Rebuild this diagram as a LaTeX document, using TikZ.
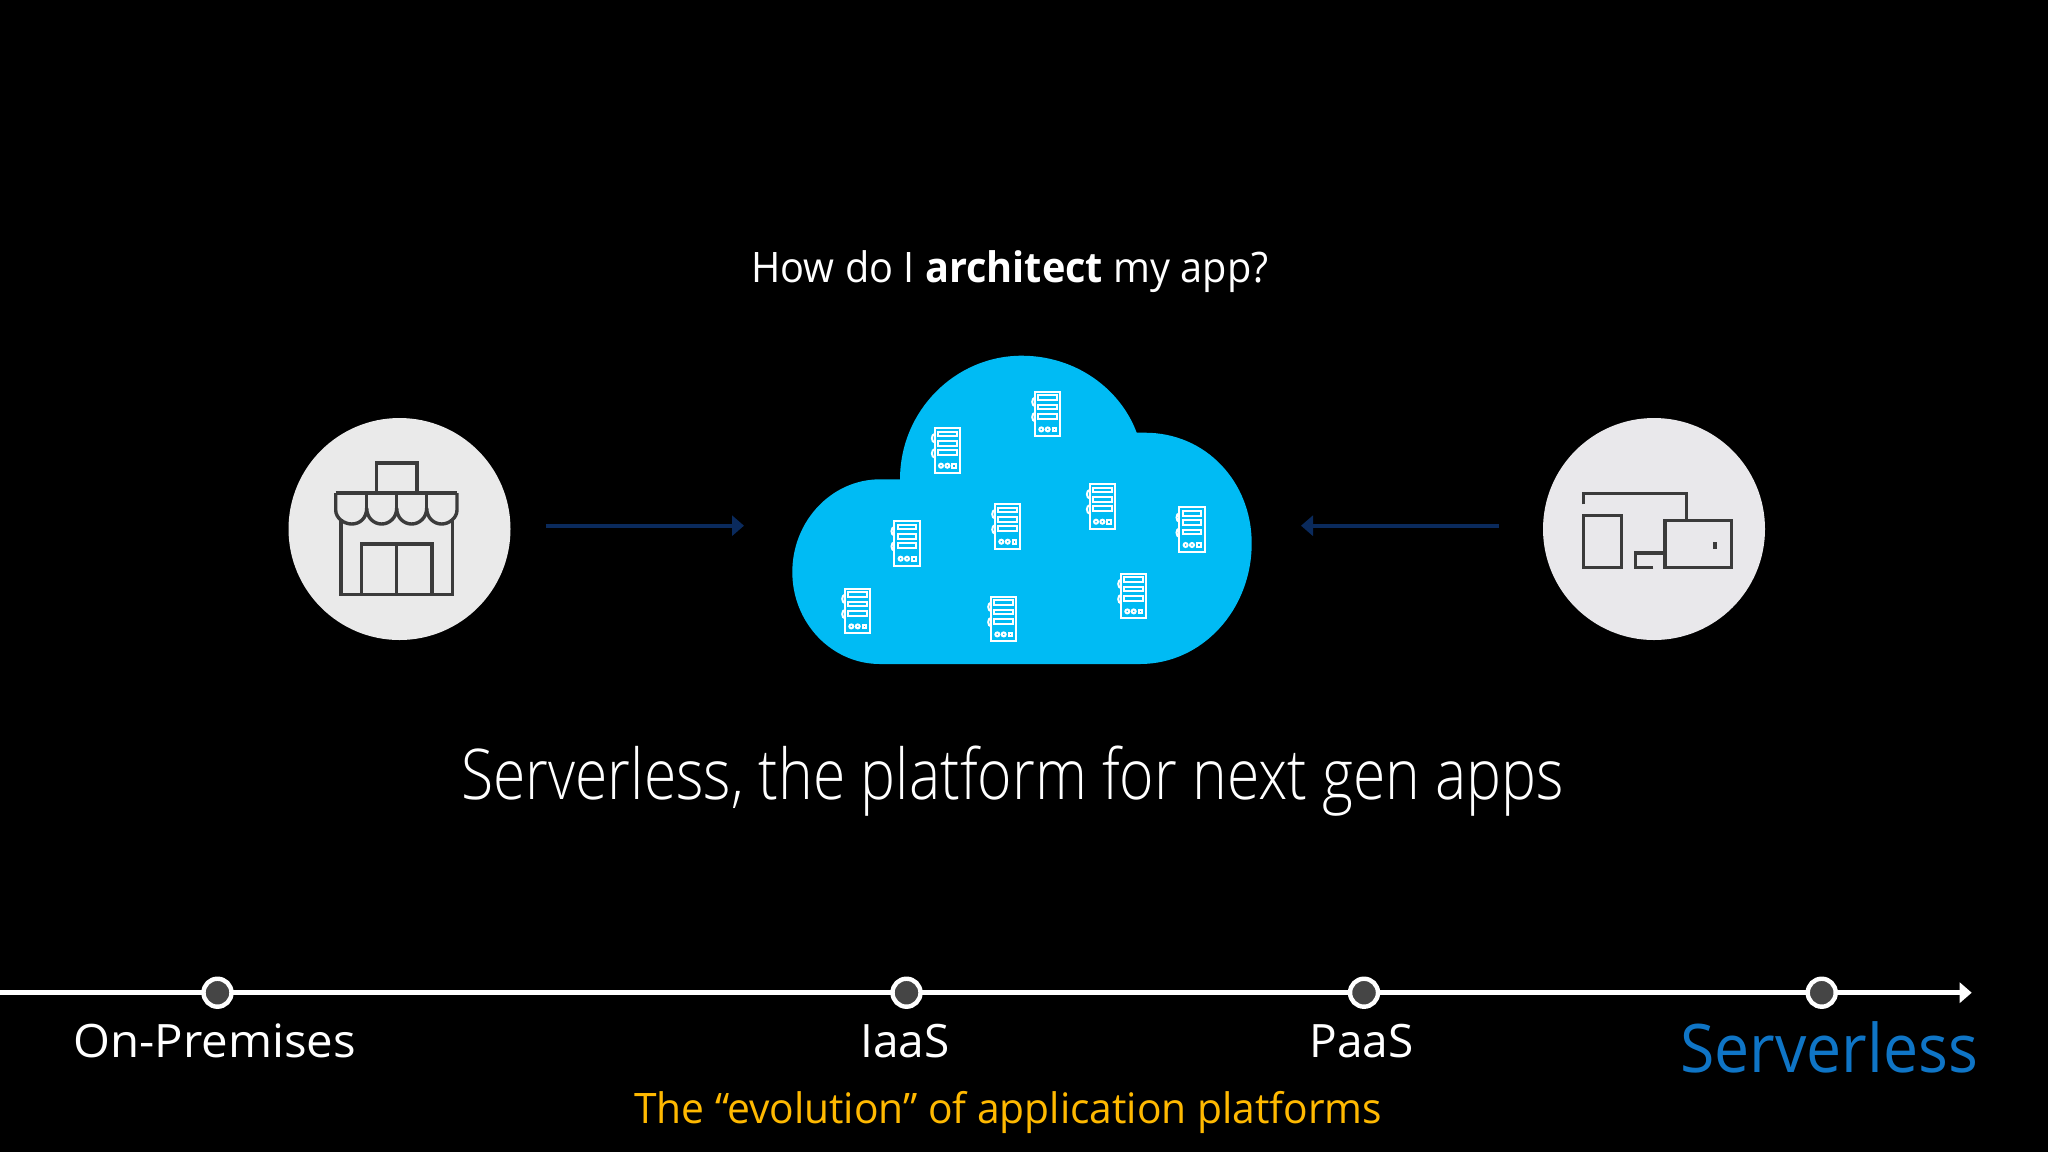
\documentclass[tikz,border=0pt]{standalone}
\usepackage{fontspec}
\usetikzlibrary{arrows.meta}
\setmainfont{Open Sans}
\newfontfamily\lightfont{Open Sans Light}
\definecolor{cloudblue}{HTML}{00BBF4}
\definecolor{iconline}{HTML}{3B3B3B}
\definecolor{discfill}{HTML}{EAEAEA}
\definecolor{discfillb}{HTML}{E9E8EB}
\definecolor{navyarrow}{HTML}{0A2A5C}
\definecolor{dotfill}{HTML}{454545}
\definecolor{servblue}{HTML}{0F75C6}
\definecolor{goldtext}{HTML}{FFB900}
\tikzset{
  disc/.style={circle,draw=none,minimum size=111pt,inner sep=0pt},
  iconstroke/.style={draw=iconline,line width=1.7pt,line join=miter},
  feedarrow/.style={draw=navyarrow,line width=2pt,-{Triangle[length=6pt,width=10pt]}},
  axisline/.style={draw=white,line width=2.3pt,-{Triangle[length=6pt,width=10pt]}},
  stopdot/.style={circle,draw=white,fill=dotfill,line width=2.2pt,minimum size=14pt,inner sep=0pt},
  label/.style={anchor=base west,inner sep=0pt,text=white},
  servstroke/.style={draw=white,line width=1pt},
  pics/server/.style={code={
    \draw[servstroke] (0,0) rectangle (25.3,44.7);
    \draw[servstroke] (3.3,3.7) rectangle (22,8.3);
    \draw[servstroke] (3.3,13) rectangle (22,17.7);
    \draw[servstroke] (3.3,22.3) rectangle (22,27);
    \draw[servstroke] (0,6) arc[start angle=90,end angle=270,x radius=2.8,y radius=-4.2];
    \draw[servstroke] (0,21.2) arc[start angle=90,end angle=270,x radius=2.8,y radius=-4.2];
    \draw[servstroke] (6.3,37.7) circle (2);
    \draw[servstroke] (12.7,37.7) circle (2);
    \draw[servstroke] (17.5,35.9) rectangle (21.3,39.5);
  }}
}
\begin{document}
\begin{tikzpicture}[x=0.5pt,y=-0.5pt]
\useasboundingbox (0,0) rectangle (2048,1152);
\fill[black] (0,0) rectangle (2048,1152);

% question
\node[label,font=\fontsize{21}{25}\selectfont] (question) at (751,282) {\scalebox{.945}[1]{How do I \textbf{architect} my app?}};

% discs
\node[disc,fill=discfill] (store) at (399.5,529) {};
\node[disc,fill=discfillb] (devices) at (1654,529) {};

% store icon
\draw[iconstroke] (376.3,492.7) -- (376.3,463) -- (417,463) -- (417,492.7);
\draw[iconstroke] (335.7,493) -- (457,493);
\draw[iconstroke] (335.7,493) -- (335.7,510)
  .. controls (335.7,518) and (344,524) .. (351.7,524)
  .. controls (360,524) and (366.7,518) .. (366.7,508)
  .. controls (366.7,518) and (374,524) .. (381.7,524)
  .. controls (389,524) and (396.7,518) .. (396.7,508)
  .. controls (396.7,518) and (404,524) .. (411.7,524)
  .. controls (419,524) and (426.7,518) .. (426.7,508)
  .. controls (426.7,518) and (434,524) .. (441.7,524)
  .. controls (449,524) and (457,518) .. (457,510) -- (457,493);
\draw[iconstroke] (366.7,493) -- (366.7,508) (396.7,493) -- (396.7,508) (426.7,493) -- (426.7,508);
\draw[iconstroke] (341,519) -- (341,594.3) -- (452.3,594.3) -- (452.3,519);
\draw[iconstroke] (361.3,594.3) -- (361.3,544) -- (432,544) -- (432,594.3);
\draw[iconstroke] (396.7,544) -- (396.7,594.3);

% devices icon
\draw[iconstroke] (1583.7,504.3) -- (1583.7,493.3) -- (1686.7,493.3) -- (1686.7,520.7);
\draw[iconstroke] (1583.7,515.7) rectangle (1621.7,567.7);
\draw[iconstroke] (1653.3,567.7) -- (1635.3,567.7) -- (1635.3,553) -- (1665,553);
\draw[iconstroke] (1665,520.7) rectangle (1731.7,567.7);
\fill[iconline] (1713,541.7) rectangle (1717.3,549.3);

% cloud
\fill[cloudblue] (880,664)
  .. controls (831.6,664) and (792.3,622.8) .. (792.3,572)
  .. controls (792.3,521) and (831.6,479.3) .. (880,479.3)
  -- (900,479.3)
  .. controls (900,411) and (955,355.7) .. (1021.7,355.7)
  .. controls (1075,355.7) and (1120,388) .. (1136.7,432.7)
  -- (1145,432.7)
  .. controls (1206,432.7) and (1251.7,482) .. (1251.7,543.3)
  .. controls (1251.7,610) and (1202,664) .. (1140,664)
  -- cycle;

% servers
\pic at (1035,391.7) {server};
\pic at (934.7,428) {server};
\pic at (894.3,521) {server};
\pic at (995,504) {server};
\pic at (1089.7,484) {server};
\pic at (1179.3,507.3) {server};
\pic at (845,588.7) {server};
\pic at (991,596.7) {server};
\pic at (1121,573.7) {server};

% arrows
\coordinate (arrowAfrom) at (546,525.7);
\coordinate (arrowAto) at (744,525.7);
\coordinate (arrowBfrom) at (1499,525.7);
\coordinate (arrowBto) at (1301,525.7);
\draw[feedarrow] (arrowAfrom) -- (arrowAto);
\draw[feedarrow] (arrowBfrom) -- (arrowBto);

% headline
\node[label,font=\fontsize{35}{40}\selectfont\lightfont] (headline) at (461,799) {\scalebox{.84}[1]{Serverless, the platform for next gen apps}};

% timeline
\coordinate (axisstart) at (0,992.7);
\coordinate (axisend) at (1971.7,992.7);
\draw[axisline] (axisstart) -- (axisend);
\node[stopdot] (s1) at (217.5,992.7) {};
\node[stopdot] (s2) at (906.5,992.7) {};
\node[stopdot] (s3) at (1364,992.7) {};
\node[stopdot] (s4) at (1821.7,992.7) {};

\node[label,font=\fontsize{23}{28}\selectfont] (t1) at (73,1057) {\scalebox{1.03}[1]{On-Premises}};
\node[label,font=\fontsize{23}{28}\selectfont] (t2) at (860,1057) {IaaS};
\node[label,font=\fontsize{23}{28}\selectfont] (t3) at (1309,1057) {PaaS};
\node[label,text=servblue,font=\fontsize{33.5}{38}\selectfont] (t4) at (1680,1072.7) {\scalebox{.934}[1]{Serverless}};
\node[label,text=goldtext,font=\fontsize{21}{25}\selectfont] (t5) at (634,1123) {\scalebox{.97}[1]{The “evolution” of application platforms}};
\end{tikzpicture}
\end{document}
